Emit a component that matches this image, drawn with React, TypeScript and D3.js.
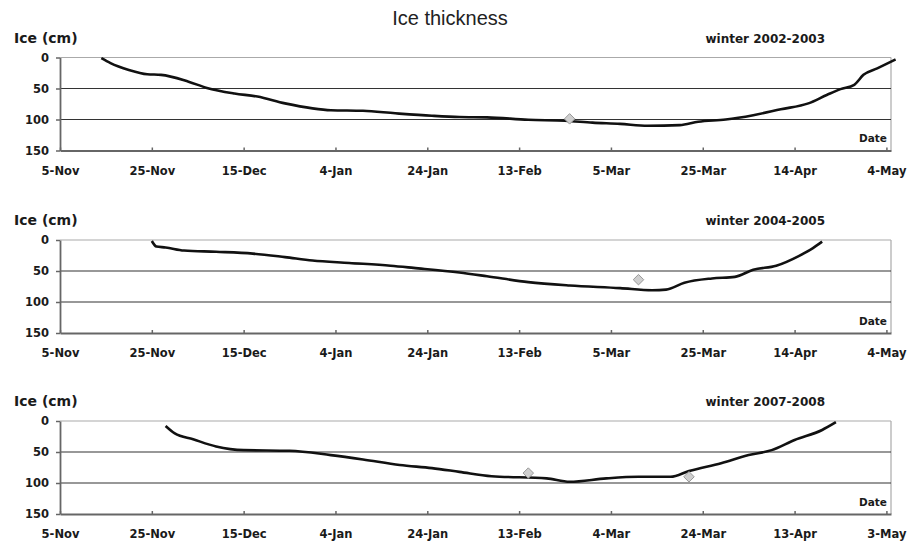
import React from "react";
import * as d3 from "d3";

type Pt = [string, number];

// ice thickness (cm), per winter
const winter2003: Pt[] = [
  ["2002-11-14", 1], ["2002-11-16", 9], ["2002-11-20", 20], ["2002-11-24", 27],
  ["2002-11-27", 28], ["2002-12-03", 39], ["2002-12-07", 49], ["2002-12-13", 58],
  ["2002-12-18", 63], ["2002-12-24", 74], ["2002-12-30", 82], ["2003-01-03", 85],
  ["2003-01-10", 86], ["2003-01-17", 90], ["2003-01-25", 94], ["2003-01-31", 96],
  ["2003-02-06", 96.5], ["2003-02-15", 100.5], ["2003-02-23", 102], ["2003-03-01", 105],
  ["2003-03-07", 107], ["2003-03-13", 110], ["2003-03-20", 109], ["2003-03-24", 103.5],
  ["2003-03-30", 100], ["2003-04-05", 93], ["2003-04-11", 83.5], ["2003-04-17", 74],
  ["2003-04-21", 60.5], ["2003-04-24", 51], ["2003-04-27", 44], ["2003-04-29", 28],
  ["2003-05-02", 17.5], ["2003-05-06", 3],
];

const winter2005: Pt[] = [
  ["2004-11-25", 1.6], ["2004-11-26", 10.6], ["2004-11-28", 12], ["2004-12-02", 17],
  ["2004-12-09", 19], ["2004-12-17", 22], ["2004-12-24", 27.6], ["2004-12-30", 33],
  ["2005-01-07", 37], ["2005-01-16", 41.5], ["2005-01-21", 45], ["2005-01-31", 52.5],
  ["2005-02-06", 58.5], ["2005-02-15", 68], ["2005-02-24", 73.4], ["2005-03-07", 77.6],
  ["2005-03-14", 81], ["2005-03-17", 80], ["2005-03-21", 69], ["2005-03-27", 62],
  ["2005-04-01", 59.5], ["2005-04-05", 48], ["2005-04-10", 41.5], ["2005-04-15", 25.5],
  ["2005-04-18", 13], ["2005-04-20", 2.6],
];

const winter2008: Pt[] = [
  ["2007-11-28", 8], ["2007-11-30", 20], ["2007-12-04", 29.5], ["2007-12-09", 41],
  ["2007-12-15", 47], ["2007-12-25", 48], ["2008-01-03", 55], ["2008-01-10", 62],
  ["2008-01-18", 71], ["2008-01-25", 76], ["2008-01-31", 82], ["2008-02-07", 89],
  ["2008-02-19", 92.5], ["2008-02-24", 98], ["2008-03-03", 92.5], ["2008-03-10", 90],
  ["2008-03-17", 90], ["2008-03-21", 80.6], ["2008-03-28", 68], ["2008-04-03", 55],
  ["2008-04-08", 47], ["2008-04-13", 30.6], ["2008-04-19", 14.5], ["2008-04-22", 2],
];

// measured points (diamonds)
const obs2003: Pt[] = [["2003-02-24", 99]];
const obs2005: Pt[] = [["2005-03-11", 64]];
const obs2008: Pt[] = [["2008-02-15", 84], ["2008-03-21", 90]];

const ticks2003 = ["2002-11-05", "2002-11-25", "2002-12-15", "2003-01-04", "2003-01-24",
  "2003-02-13", "2003-03-05", "2003-03-25", "2003-04-14", "2003-05-04"];
const ticks2005 = ["2004-11-05", "2004-11-25", "2004-12-15", "2005-01-04", "2005-01-24",
  "2005-02-13", "2005-03-05", "2005-03-25", "2005-04-14", "2005-05-04"];
const ticks2008 = ["2007-11-05", "2007-11-25", "2007-12-15", "2008-01-04", "2008-01-24",
  "2008-02-13", "2008-03-04", "2008-03-24", "2008-04-13", "2008-05-03"];

const iceTicks = [0, 50, 100, 150];
const labels = ["winter 2002-2003", "winter 2004-2005", "winter 2007-2008"];

const parse = d3.timeParse("%Y-%m-%d");

const App = () => {
  const svg = React.useRef<SVGSVGElement>(null);

  React.useEffect(() => {
    d3.select(svg.current).selectAll("*").remove();
    drawChart(svg.current);
  }, [svg]);

  return (
    <svg
      ref={svg}
      width={916}
      height={542}
      style={{ position: "absolute", left: 0, top: 0, background: "#fff" }}
    />
  );
};

function drawChart(el: SVGSVGElement | null) {
  const svg = d3.select(el);
  const left = 60;
  const right = 891;
  const h = 93;
  const tops = [57.5, 240, 421];
  const series = [winter2003, winter2005, winter2008];
  const obs = [obs2003, obs2005, obs2008];
  const tickSets = [ticks2003, ticks2005, ticks2008];
  const bold = "DejaVu Sans, sans-serif";

  svg
    .append("text")
    .attr("x", 450)
    .attr("y", 25)
    .attr("text-anchor", "middle")
    .attr("font-family", "Liberation Sans, Arial, sans-serif")
    .attr("font-size", 20)
    .attr("fill", "#222")
    .text("Ice thickness");

  series.forEach((data, i) => {
    const top = tops[i];
    const start = parse(tickSets[i][0]) as Date;
    const xScale = d3
      .scaleTime()
      .domain([start, d3.timeDay.offset(start, 181)])
      .range([left, right]);
    const yScale = d3.scaleLinear().domain([0, 150]).range([top, top + h]);

    const g = svg.append("g");

    // top + right border (light)
    g.append("line")
      .attr("x1", left).attr("x2", right)
      .attr("y1", top).attr("y2", top)
      .attr("stroke", "#aaa").attr("stroke-width", 1.2);
    g.append("line")
      .attr("x1", right).attr("x2", right)
      .attr("y1", top).attr("y2", top + h)
      .attr("stroke", "#aaa").attr("stroke-width", 1.2);

    // gridlines 50 / 100
    g.selectAll(".grid")
      .data([50, 100])
      .enter()
      .append("line")
      .attr("x1", left).attr("x2", right)
      .attr("y1", (d) => yScale(d)).attr("y2", (d) => yScale(d))
      .attr("stroke", "#333").attr("stroke-width", 1.2);

    // y axis
    const yAxis = d3.axisLeft(yScale).tickValues(iceTicks).tickSize(4).tickSizeOuter(0).tickPadding(7);
    const ya = g.append("g").attr("transform", "translate(" + left + ",0)").call(yAxis);
    ya.select(".domain").attr("stroke", "#666").attr("stroke-width", 1.8);
    ya.selectAll(".tick line").attr("stroke", "#666").attr("stroke-width", 1.5);
    ya.selectAll("text")
      .attr("font-family", bold)
      .attr("font-weight", "bold")
      .attr("font-size", 11.5)
      .attr("fill", "#1a1a1a");

    // x axis
    const xAxis = d3
      .axisBottom(xScale)
      .tickValues(tickSets[i].map((t) => parse(t) as Date))
      .tickFormat((d) => d3.timeFormat("%-d-%b")(d as Date))
      .tickSize(-3)
      .tickSizeOuter(0);
    const xa = g.append("g").attr("transform", "translate(0," + (top + h) + ")").call(xAxis);
    xa.select(".domain").attr("stroke", "#666").attr("stroke-width", 1.8);
    xa.selectAll(".tick line").attr("stroke", "#666").attr("stroke-width", 1.5);
    xa.selectAll("text")
      .attr("y", 24)
      .attr("dy", 0)
      .attr("font-family", bold)
      .attr("font-weight", "bold")
      .attr("font-size", 11.5)
      .attr("fill", "#1a1a1a");
    svg.selectAll(".domain").attr("fill", "none");

    // labels
    g.append("text")
      .attr("x", 14).attr("y", top - 15)
      .attr("font-family", bold).attr("font-weight", "bold")
      .attr("font-size", 14).attr("fill", "#1a1a1a")
      .text("Ice (cm)");
    g.append("text")
      .attr("x", 825).attr("y", top - 15)
      .attr("text-anchor", "end")
      .attr("font-family", bold).attr("font-weight", "bold")
      .attr("font-size", 12).attr("fill", "#1a1a1a")
      .text(labels[i]);
    g.append("text")
      .attr("x", 887).attr("y", top + h - 8.5)
      .attr("text-anchor", "end")
      .attr("font-family", bold).attr("font-weight", "bold")
      .attr("font-size", 10.5).attr("fill", "#1a1a1a")
      .text("Date");

    // thickness curve
    const line = d3
      .line<Pt>()
      .curve(d3.curveMonotoneX)
      .x((d) => xScale(parse(d[0]) as Date))
      .y((d) => yScale(d[1]));
    g.append("path")
      .datum(data)
      .attr("fill", "none")
      .attr("stroke", "#111")
      .attr("stroke-width", 2.6)
      .attr("stroke-linejoin", "round")
      .attr("d", line);

    // measured points
    const diamond = d3.symbol().type(d3.symbolDiamond2).size(70);
    g.selectAll(".obs")
      .data(obs[i])
      .enter()
      .append("path")
      .attr("d", diamond)
      .attr("transform", (d) => "translate(" + xScale(parse(d[0]) as Date) + "," + yScale(d[1]) + ")")
      .attr("fill", "#cfcfcf")
      .attr("stroke", "#999")
      .attr("stroke-width", 1);
  });
}

export default App;
